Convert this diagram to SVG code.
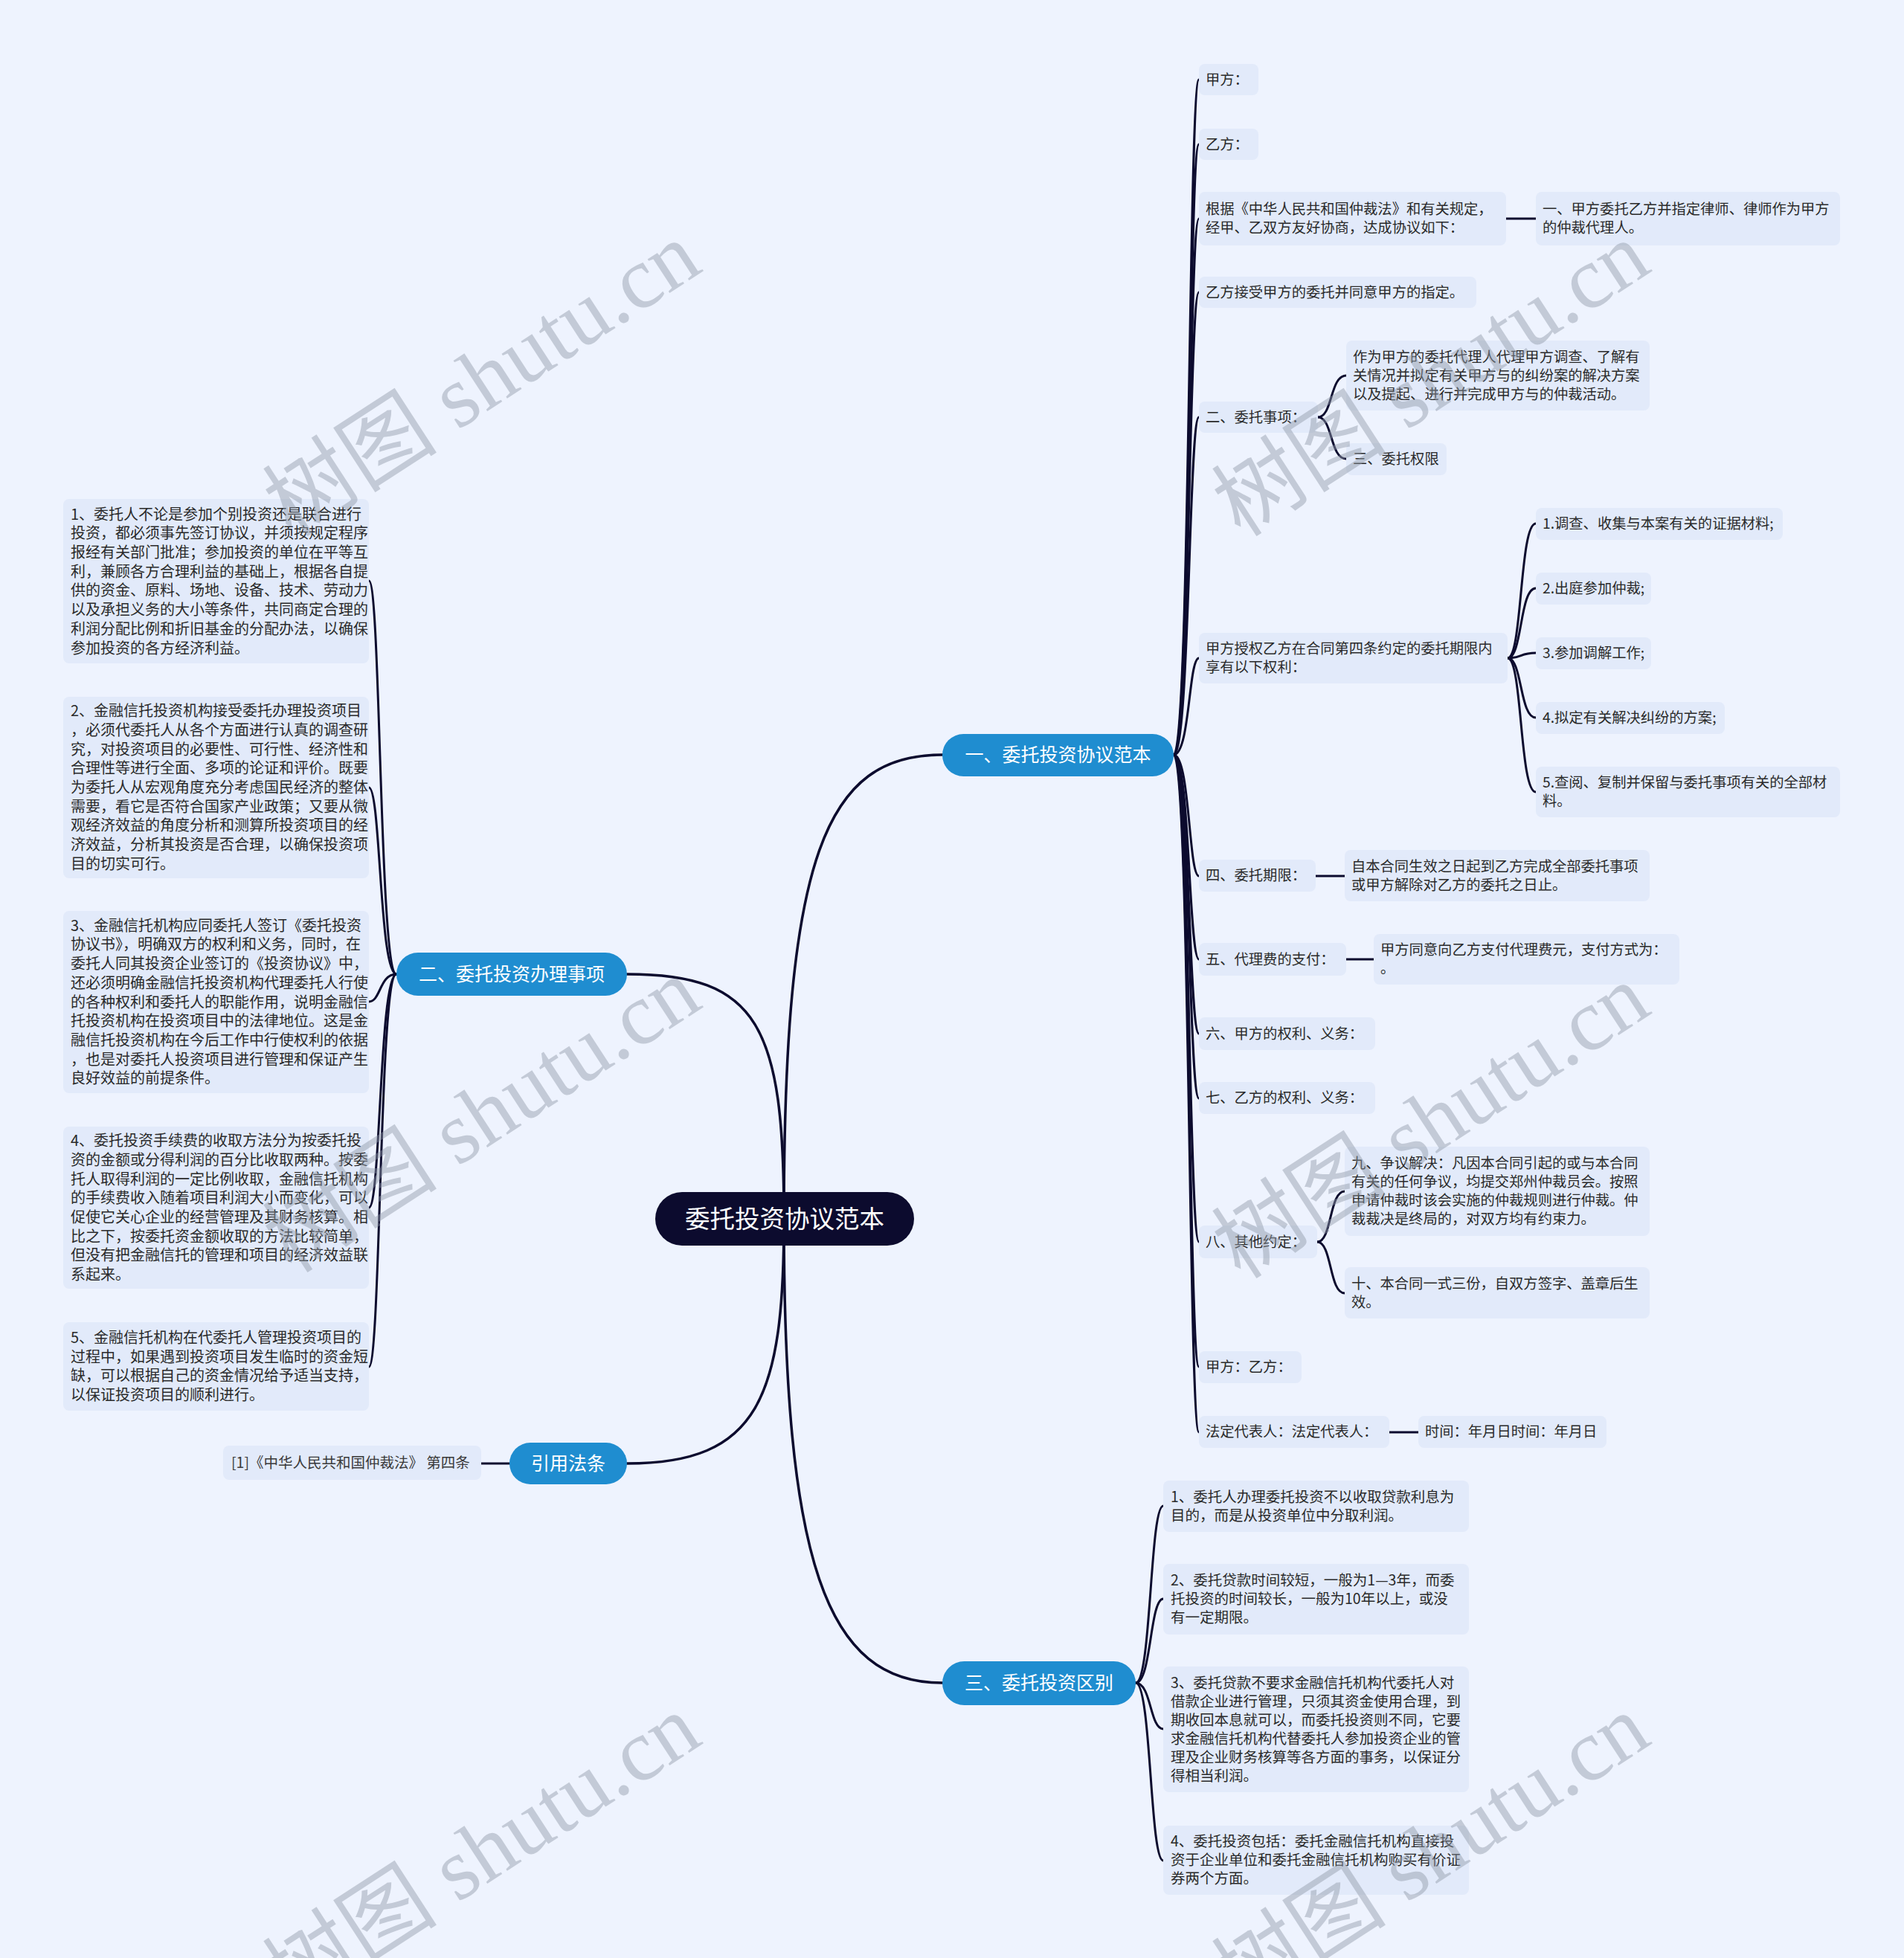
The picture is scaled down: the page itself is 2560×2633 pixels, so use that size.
<svg xmlns="http://www.w3.org/2000/svg" width="2560" height="2633" viewBox="0 0 2560 2633">
<style>
.bg{fill:#EEF3FE}
.box{fill:#E2EAFA}
.br{fill:#1F8DD0}
.root{fill:#0C0B2E}
.t{font-family:"Noto Sans CJK SC","Noto Sans",sans-serif;fill:#2a2a2a}
.r{font-size:19.3px}
.l{font-size:20px}
.s{font-size:19.5px}
.bt{font-family:"Noto Sans CJK SC","Noto Sans",sans-serif;font-size:25px;fill:#ffffff;text-anchor:middle}
.rt{font-family:"Noto Sans CJK SC","Noto Sans",sans-serif;font-size:33.5px;fill:#ffffff;text-anchor:middle}
.c{fill:none;stroke:#0C0B2E;stroke-width:3;stroke-linecap:round}
.cm{fill:none;stroke:#0C0B2E;stroke-width:3.5;stroke-linecap:round}
.wm{font-family:"Liberation Serif","Noto Sans CJK SC",serif;font-size:118px;fill:#9099A8;opacity:0.45;text-anchor:middle}
</style>
<rect class="bg" x="0" y="0" width="2560" height="2633"/>

<g id="connectors">
  <path class="cm" d="M1054 1639 C1054 1150 1110 1015 1267 1015"/>
  <path class="cm" d="M1054 1639 C1054 1380 1020 1310 843 1310"/>
  <path class="cm" d="M1054 1639 C1054 1880 1020 1968 843 1968"/>
  <path class="cm" d="M1054 1639 C1054 2100 1110 2263 1267 2263"/>
  <path class="c" d="M1578 1015 C1600 1015 1598 107 1612 107"/>
  <path class="c" d="M1578 1015 C1600 1015 1598 194 1612 194"/>
  <path class="c" d="M1578 1015 C1600 1015 1598 294 1612 294"/>
  <path class="c" d="M1578 1015 C1600 1015 1598 393 1612 393"/>
  <path class="c" d="M1578 1015 C1600 1015 1598 561 1612 561"/>
  <path class="c" d="M1578 1015 C1600 1015 1598 885 1612 885"/>
  <path class="c" d="M1578 1015 C1600 1015 1598 1178 1612 1178"/>
  <path class="c" d="M1578 1015 C1600 1015 1598 1290 1612 1290"/>
  <path class="c" d="M1578 1015 C1600 1015 1598 1390 1612 1390"/>
  <path class="c" d="M1578 1015 C1600 1015 1598 1477 1612 1477"/>
  <path class="c" d="M1578 1015 C1600 1015 1598 1670 1612 1670"/>
  <path class="c" d="M1578 1015 C1600 1015 1598 1838 1612 1838"/>
  <path class="c" d="M1578 1015 C1600 1015 1598 1926 1612 1926"/>
  <path class="c" d="M2025 294 L2065 294"/>
  <path class="c" d="M1772 561 C1792 561 1788 505 1810 505"/>
  <path class="c" d="M1772 561 C1792 561 1788 617 1810 617"/>
  <path class="c" d="M2027 885 C2047 885 2043 704 2065 704"/>
  <path class="c" d="M2027 885 C2047 885 2043 791 2065 791"/>
  <path class="c" d="M2027 885 C2047 885 2043 878 2065 878"/>
  <path class="c" d="M2027 885 C2047 885 2043 965 2065 965"/>
  <path class="c" d="M2027 885 C2047 885 2043 1065 2065 1065"/>
  <path class="c" d="M1769 1178 L1808 1178"/>
  <path class="c" d="M1810 1290 L1847 1290"/>
  <path class="c" d="M1771 1670 C1791 1670 1787 1602 1808 1602"/>
  <path class="c" d="M1771 1670 C1791 1670 1787 1739 1808 1739"/>
  <path class="c" d="M1868 1926 L1907 1926"/>
  <path class="c" d="M533 1310 C510 1310 512 781 496 781"/>
  <path class="c" d="M533 1310 C510 1310 512 1059 496 1059"/>
  <path class="c" d="M533 1310 C510 1310 512 1347 496 1347"/>
  <path class="c" d="M533 1310 C510 1310 512 1624 496 1624"/>
  <path class="c" d="M533 1310 C510 1310 512 1838 496 1838"/>
  <path class="c" d="M685 1968 L647 1968"/>
  <path class="c" d="M1527 2263 C1548 2263 1546 2025 1564 2025"/>
  <path class="c" d="M1527 2263 C1548 2263 1546 2150 1564 2150"/>
  <path class="c" d="M1527 2263 C1548 2263 1546 2325 1564 2325"/>
  <path class="c" d="M1527 2263 C1548 2263 1546 2502 1564 2502"/>
</g>

<g id="root">
  <rect class="root" x="881" y="1603" width="348" height="72" rx="36"/>
  <text class="rt" x="1055" y="1650.7">委托投资协议范本</text>
</g>

<g id="b1">
  <rect class="br" x="1267" y="987" width="311" height="57" rx="28.5"/>
  <text class="bt" x="1422.5" y="1024">一、委托投资协议范本</text>
</g>
<g id="b2">
  <rect class="br" x="533" y="1281" width="310" height="58" rx="29"/>
  <text class="bt" x="688" y="1318.8">二、委托投资办理事项</text>
</g>
<g id="b3">
  <rect class="br" x="1267" y="2234" width="260" height="59" rx="29.5"/>
  <text class="bt" x="1397" y="2272">三、委托投资区别</text>
</g>
<g id="b4">
  <rect class="br" x="685" y="1940" width="158" height="56" rx="28"/>
  <text class="bt" x="764" y="1976.8">引用法条</text>
</g>

<g id="n-jia"><rect class="box" x="1612" y="86" width="80" height="42" rx="8"/><text class="t r" x="1621" y="113.8">甲方：</text></g>
<g id="n-yi"><rect class="box" x="1612" y="173" width="80" height="42" rx="8"/><text class="t r" x="1621" y="200.8">乙方：</text></g>
<g id="n-genju"><rect class="box" x="1612" y="258" width="413" height="72" rx="8"/><text class="t r" x="1621" y="288.3"><tspan x="1621">根据《中华人民共和国仲裁法》和有关规定，</tspan><tspan x="1621" dy="25">经甲、乙双方友好协商，达成协议如下：</tspan></text></g>
<g id="n-genju-c"><rect class="box" x="2065" y="258" width="409" height="72" rx="8"/><text class="t r" x="2074" y="288.3"><tspan x="2074">一、甲方委托乙方并指定律师、律师作为甲方</tspan><tspan x="2074" dy="25">的仲裁代理人。</tspan></text></g>
<g id="n-jieshou"><rect class="box" x="1612" y="372" width="373" height="42" rx="8"/><text class="t r" x="1621" y="399.8">乙方接受甲方的委托并同意甲方的指定。</text></g>
<g id="n-shixiang"><rect class="box" x="1612" y="540" width="160" height="42" rx="8"/><text class="t r" x="1621" y="567.8">二、委托事项：</text></g>
<g id="n-shixiang-1"><rect class="box" x="1810" y="458" width="408" height="94" rx="8"/><text class="t r" x="1819" y="486.8"><tspan x="1819">作为甲方的委托代理人代理甲方调查、了解有</tspan><tspan x="1819" dy="25">关情况并拟定有关甲方与的纠纷案的解决方案</tspan><tspan x="1819" dy="25">以及提起、进行并完成甲方与的仲裁活动。</tspan></text></g>
<g id="n-shixiang-2"><rect class="box" x="1810" y="596" width="135" height="43" rx="8"/><text class="t r" x="1819" y="624.3">三、委托权限</text></g>
<g id="n-shouquan"><rect class="box" x="1612" y="851" width="415" height="68" rx="8"/><text class="t r" x="1621" y="879.3"><tspan x="1621">甲方授权乙方在合同第四条约定的委托期限内</tspan><tspan x="1621" dy="25">享有以下权利：</tspan></text></g>
<g id="n-quan-1"><rect class="box" x="2065" y="683" width="332" height="43" rx="8"/><text class="t r" x="2074" y="711.3">1.调查、收集与本案有关的证据材料;</text></g>
<g id="n-quan-2"><rect class="box" x="2065" y="770" width="155" height="43" rx="8"/><text class="t r" x="2074" y="798.3">2.出庭参加仲裁;</text></g>
<g id="n-quan-3"><rect class="box" x="2065" y="857" width="155" height="43" rx="8"/><text class="t r" x="2074" y="885.3">3.参加调解工作;</text></g>
<g id="n-quan-4"><rect class="box" x="2065" y="944" width="254" height="43" rx="8"/><text class="t r" x="2074" y="972.3">4.拟定有关解决纠纷的方案;</text></g>
<g id="n-quan-5"><rect class="box" x="2065" y="1031" width="409" height="68" rx="8"/><text class="t r" x="2074" y="1059.3"><tspan x="2074">5.查阅、复制并保留与委托事项有关的全部材</tspan><tspan x="2074" dy="25">料。</tspan></text></g>
<g id="n-qixian"><rect class="box" x="1612" y="1156" width="157" height="43" rx="8"/><text class="t r" x="1621" y="1184.3">四、委托期限：</text></g>
<g id="n-qixian-c"><rect class="box" x="1808" y="1143" width="410" height="69" rx="8"/><text class="t r" x="1817" y="1171.8"><tspan x="1817">自本合同生效之日起到乙方完成全部委托事项</tspan><tspan x="1817" dy="25">或甲方解除对乙方的委托之日止。</tspan></text></g>
<g id="n-zhifu"><rect class="box" x="1612" y="1268" width="198" height="44" rx="8"/><text class="t r" x="1621" y="1296.8">五、代理费的支付：</text></g>
<g id="n-zhifu-c"><rect class="box" x="1847" y="1256" width="411" height="68" rx="8"/><text class="t r" x="1856" y="1284.3"><tspan x="1856">甲方同意向乙方支付代理费元，支付方式为：</tspan><tspan x="1856" dy="25">。</tspan></text></g>
<g id="n-liu"><rect class="box" x="1612" y="1368" width="237" height="44" rx="8"/><text class="t r" x="1621" y="1396.8">六、甲方的权利、义务：</text></g>
<g id="n-qi"><rect class="box" x="1612" y="1455" width="237" height="43" rx="8"/><text class="t r" x="1621" y="1483.3">七、乙方的权利、义务：</text></g>
<g id="n-ba"><rect class="box" x="1612" y="1648" width="159" height="44" rx="8"/><text class="t r" x="1621" y="1676.8">八、其他约定：</text></g>
<g id="n-jiu"><rect class="box" x="1808" y="1542" width="410" height="120" rx="8"/><text class="t r" x="1817" y="1571.3"><tspan x="1817">九、争议解决：凡因本合同引起的或与本合同</tspan><tspan x="1817" dy="25">有关的任何争议，均提交郑州仲裁员会。按照</tspan><tspan x="1817" dy="25">申请仲裁时该会实施的仲裁规则进行仲裁。仲</tspan><tspan x="1817" dy="25">裁裁决是终局的，对双方均有约束力。</tspan></text></g>
<g id="n-shi"><rect class="box" x="1808" y="1704" width="410" height="69" rx="8"/><text class="t r" x="1817" y="1732.8"><tspan x="1817">十、本合同一式三份，自双方签字、盖章后生</tspan><tspan x="1817" dy="25">效。</tspan></text></g>
<g id="n-jiayi"><rect class="box" x="1612" y="1817" width="138" height="43" rx="8"/><text class="t r" x="1621" y="1845.3">甲方：乙方：</text></g>
<g id="n-fading"><rect class="box" x="1612" y="1904" width="256" height="43" rx="8"/><text class="t r" x="1621" y="1932.3">法定代表人：法定代表人：</text></g>
<g id="n-shijian"><rect class="box" x="1907" y="1904" width="253" height="43" rx="8"/><text class="t r" x="1916" y="1932.3">时间：年月日时间：年月日</text></g>

<g id="n-l1"><rect class="box" x="85" y="671" width="411" height="221" rx="8"/><text class="t l" x="95" y="698.6"><tspan x="95">1、委托人不论是参加个别投资还是联合进行</tspan><tspan x="95" dy="25.7">投资，都必须事先签订协议，并须按规定程序</tspan><tspan x="95" dy="25.7">报经有关部门批准；参加投资的单位在平等互</tspan><tspan x="95" dy="25.7">利，兼顾各方合理利益的基础上，根据各自提</tspan><tspan x="95" dy="25.7">供的资金、原料、场地、设备、技术、劳动力</tspan><tspan x="95" dy="25.7">以及承担义务的大小等条件，共同商定合理的</tspan><tspan x="95" dy="25.7">利润分配比例和折旧基金的分配办法，以确保</tspan><tspan x="95" dy="25.7">参加投资的各方经济利益。</tspan></text></g>
<g id="n-l2"><rect class="box" x="85" y="937" width="411" height="244" rx="8"/><text class="t l" x="95" y="963.2"><tspan x="95">2、金融信托投资机构接受委托办理投资项目</tspan><tspan x="95" dy="25.7">，必须代委托人从各个方面进行认真的调查研</tspan><tspan x="95" dy="25.7">究，对投资项目的必要性、可行性、经济性和</tspan><tspan x="95" dy="25.7">合理性等进行全面、多项的论证和评价。既要</tspan><tspan x="95" dy="25.7">为委托人从宏观角度充分考虑国民经济的整体</tspan><tspan x="95" dy="25.7">需要，看它是否符合国家产业政策；又要从微</tspan><tspan x="95" dy="25.7">观经济效益的角度分析和测算所投资项目的经</tspan><tspan x="95" dy="25.7">济效益，分析其投资是否合理，以确保投资项</tspan><tspan x="95" dy="25.7">目的切实可行。</tspan></text></g>
<g id="n-l3"><rect class="box" x="85" y="1225" width="411" height="245" rx="8"/><text class="t l" x="95" y="1251.7"><tspan x="95">3、金融信托机构应同委托人签订《委托投资</tspan><tspan x="95" dy="25.7">协议书》，明确双方的权利和义务，同时，在</tspan><tspan x="95" dy="25.7">委托人同其投资企业签订的《投资协议》中，</tspan><tspan x="95" dy="25.7">还必须明确金融信托投资机构代理委托人行使</tspan><tspan x="95" dy="25.7">的各种权利和委托人的职能作用，说明金融信</tspan><tspan x="95" dy="25.7">托投资机构在投资项目中的法律地位。这是金</tspan><tspan x="95" dy="25.7">融信托投资机构在今后工作中行使权利的依据</tspan><tspan x="95" dy="25.7">，也是对委托人投资项目进行管理和保证产生</tspan><tspan x="95" dy="25.7">良好效益的前提条件。</tspan></text></g>
<g id="n-l4"><rect class="box" x="85" y="1515" width="411" height="218" rx="8"/><text class="t l" x="95" y="1541.1"><tspan x="95">4、委托投资手续费的收取方法分为按委托投</tspan><tspan x="95" dy="25.7">资的金额或分得利润的百分比收取两种。按委</tspan><tspan x="95" dy="25.7">托人取得利润的一定比例收取，金融信托机构</tspan><tspan x="95" dy="25.7">的手续费收入随着项目利润大小而变化，可以</tspan><tspan x="95" dy="25.7">促使它关心企业的经营管理及其财务核算。相</tspan><tspan x="95" dy="25.7">比之下，按委托资金额收取的方法比较简单，</tspan><tspan x="95" dy="25.7">但没有把金融信托的管理和项目的经济效益联</tspan><tspan x="95" dy="25.7">系起来。</tspan></text></g>
<g id="n-l5"><rect class="box" x="85" y="1778" width="411" height="119" rx="8"/><text class="t l" x="95" y="1806"><tspan x="95">5、金融信托机构在代委托人管理投资项目的</tspan><tspan x="95" dy="25.7">过程中，如果遇到投资项目发生临时的资金短</tspan><tspan x="95" dy="25.7">缺，可以根据自己的资金情况给予适当支持，</tspan><tspan x="95" dy="25.7">以保证投资项目的顺利进行。</tspan></text></g>

<g id="n-cite"><rect class="box" x="300" y="1944" width="347" height="46" rx="8"/><text class="t s" x="311" y="1973.8" style="fill:#3a3a3a">[1]《中华人民共和国仲裁法》 第四条</text></g>

<g id="n-s1"><rect class="box" x="1564" y="1991" width="411" height="69" rx="8"/><text class="t s" x="1574" y="2019.8"><tspan x="1574">1、委托人办理委托投资不以收取贷款利息为</tspan><tspan x="1574" dy="25">目的，而是从投资单位中分取利润。</tspan></text></g>
<g id="n-s2"><rect class="box" x="1564" y="2103" width="411" height="95" rx="8"/><text class="t s" x="1574" y="2132.3"><tspan x="1574">2、委托贷款时间较短，一般为1—3年，而委</tspan><tspan x="1574" dy="25">托投资的时间较长，一般为10年以上，或没</tspan><tspan x="1574" dy="25">有一定期限。</tspan></text></g>
<g id="n-s3"><rect class="box" x="1564" y="2241" width="411" height="169" rx="8"/><text class="t s" x="1574" y="2269.8"><tspan x="1574">3、委托贷款不要求金融信托机构代委托人对</tspan><tspan x="1574" dy="25">借款企业进行管理，只须其资金使用合理，到</tspan><tspan x="1574" dy="25">期收回本息就可以，而委托投资则不同，它要</tspan><tspan x="1574" dy="25">求金融信托机构代替委托人参加投资企业的管</tspan><tspan x="1574" dy="25">理及企业财务核算等各方面的事务，以保证分</tspan><tspan x="1574" dy="25">得相当利润。</tspan></text></g>
<g id="n-s4"><rect class="box" x="1564" y="2455" width="411" height="93" rx="8"/><text class="t s" x="1574" y="2483.3"><tspan x="1574">4、委托投资包括：委托金融信托机构直接投</tspan><tspan x="1574" dy="25">资于企业单位和委托金融信托机构购买有价证</tspan><tspan x="1574" dy="25">券两个方面。</tspan></text></g>

<g id="watermarks">
  <text class="wm" transform="translate(648 510) rotate(-33)" x="0" y="40">树图 shutu.cn</text>
  <text class="wm" transform="translate(1924 510) rotate(-33)" x="0" y="40">树图 shutu.cn</text>
  <text class="wm" transform="translate(648 1500) rotate(-33)" x="0" y="40">树图 shutu.cn</text>
  <text class="wm" transform="translate(1924 1508) rotate(-33)" x="0" y="40">树图 shutu.cn</text>
  <text class="wm" transform="translate(648 2490) rotate(-33)" x="0" y="40">树图 shutu.cn</text>
  <text class="wm" transform="translate(1924 2490) rotate(-33)" x="0" y="40">树图 shutu.cn</text>
</g>
</svg>
